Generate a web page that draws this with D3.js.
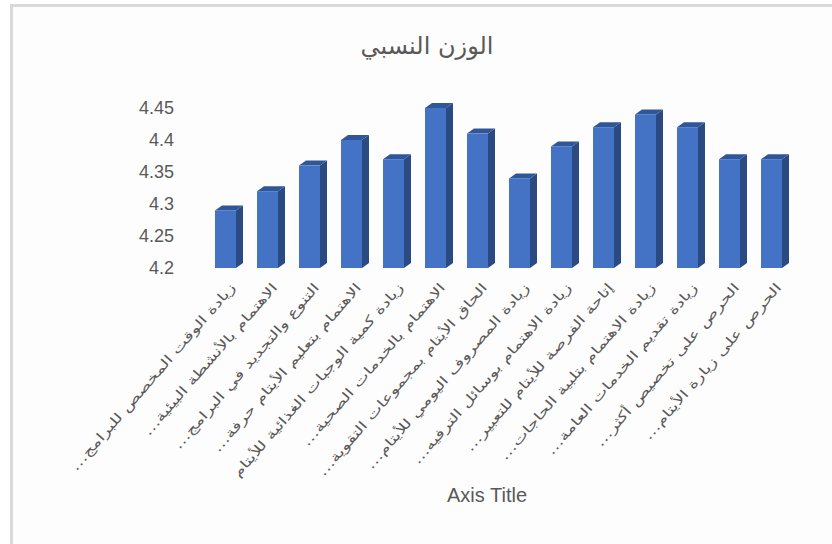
<!DOCTYPE html>
<html>
<head>
<meta charset="utf-8">
<script src="https://cdn.jsdelivr.net/npm/d3@7"></script>
<style>
  html, body { margin: 0; padding: 0; background: #ffffff; }
  svg { display: block; }
</style>
</head>
<body>
<svg id="chart" width="832" height="544"></svg>
<script>
const categories = [
  "زيادة الوقت المخصص للبرامج…",
  "الاهتمام بالأنشطة البيئية…",
  "التنوع والتجديد في البرامج…",
  "الاهتمام بتعليم الأيتام حرفة…",
  "زيادة كمية الوجبات الغذائية للأيتام",
  "الاهتمام بالخدمات الصحية…",
  "الحاق الأيتام بمجموعات التقوية…",
  "زيادة المصروف اليومي للأيتام…",
  "زيادة الاهتمام بوسائل الترفيه…",
  "إتاحة الفرصة للأيتام للتعبير…",
  "زيادة الاهتمام بتلبية الحاجات…",
  "زيادة تقديم الخدمات العامة…",
  "الحرص على تخصيص أكثر…",
  "الحرص على زيارة الأيتام…"
];
const values = [4.29, 4.32, 4.36, 4.40, 4.37, 4.45, 4.41, 4.34, 4.39, 4.42, 4.44, 4.42, 4.37, 4.37];
const yTicks = [4.2, 4.25, 4.3, 4.35, 4.4, 4.45];
const chartTitle = "الوزن النسبي";
const xAxisTitle = "Axis Title";

const svg = d3.select("#chart");
const W = 832, H = 544;

// chart background and frame
svg.append("rect").attr("x", 12).attr("y", 6).attr("width", W - 12).attr("height", H - 6).attr("fill", "#fdfdfd");
svg.append("rect").attr("x", 10).attr("y", 4).attr("width", 3).attr("height", H - 4).attr("fill", "#d9d9d9");
svg.append("rect").attr("x", 10).attr("y", 4).attr("width", W - 10).attr("height", 3).attr("fill", "#d9d9d9");

const x = d3.scaleBand().domain(categories).range([204.5, 792.5]).paddingInner(0.5).paddingOuter(0.25);
const y = d3.scaleLinear().domain([4.2, 4.45]).range([268, 108]);

const dx = 7, dy = 5;
const bw = x.bandwidth();
const y0 = y(4.2);

// y axis
const yAxis = svg.append("g").attr("transform", "translate(180,0)")
  .call(d3.axisLeft(y).tickValues(yTicks).tickSize(0).tickPadding(6).tickFormat(d => String(+d.toFixed(2))));
yAxis.select(".domain").remove();
yAxis.selectAll("text").attr("font-family", "Liberation Sans, Arial, sans-serif")
  .attr("font-size", 18).attr("fill", "#595959");

// bars
const data = categories.map((c, i) => ({ c, v: values[i] }));
const bars = svg.append("g").selectAll("g").data(data).join("g");

bars.append("polygon")
  .attr("points", d => {
    const xl = x(d.c) + bw, yt = y(d.v);
    return [[xl, yt], [xl + dx, yt - dy], [xl + dx, y0 - dy], [xl, y0]].map(p => p.join(",")).join(" ");
  })
  .attr("fill", "#2b4a82");

bars.append("polygon")
  .attr("points", d => {
    const xl = x(d.c), yt = y(d.v);
    return [[xl, yt], [xl + dx, yt - dy], [xl + bw + dx, yt - dy], [xl + bw, yt]].map(p => p.join(",")).join(" ");
  })
  .attr("fill", "#30569a");

bars.append("rect")
  .attr("x", d => x(d.c))
  .attr("y", d => y(d.v))
  .attr("width", bw)
  .attr("height", d => y0 - y(d.v))
  .attr("fill", "#4472c4");

// x axis labels
const xAxis = svg.append("g").attr("transform", "translate(0,280)")
  .call(d3.axisBottom(x).tickSize(0).tickPadding(0));
xAxis.select(".domain").remove();
xAxis.selectAll("text")
  .attr("font-family", "DejaVu Sans, sans-serif")
  .attr("font-size", 13)
  .attr("fill", "#595959")
  .attr("direction", "rtl")
  .attr("text-anchor", "start")
  .attr("y", 0).attr("dy", "0.35em")
  .attr("transform", "translate(7,5) rotate(-49) scale(1.4,1)");

// title
svg.append("text").attr("x", 427).attr("y", 54).attr("text-anchor", "middle")
  .attr("font-family", "DejaVu Sans, sans-serif").attr("font-size", 24).attr("fill", "#595959")
  .text(chartTitle);

// axis title
svg.append("text").attr("x", 487).attr("y", 502).attr("text-anchor", "middle")
  .attr("font-family", "Liberation Sans, Arial, sans-serif").attr("font-size", 20).attr("fill", "#595959")
  .text(xAxisTitle);
</script>
</body>
</html>
